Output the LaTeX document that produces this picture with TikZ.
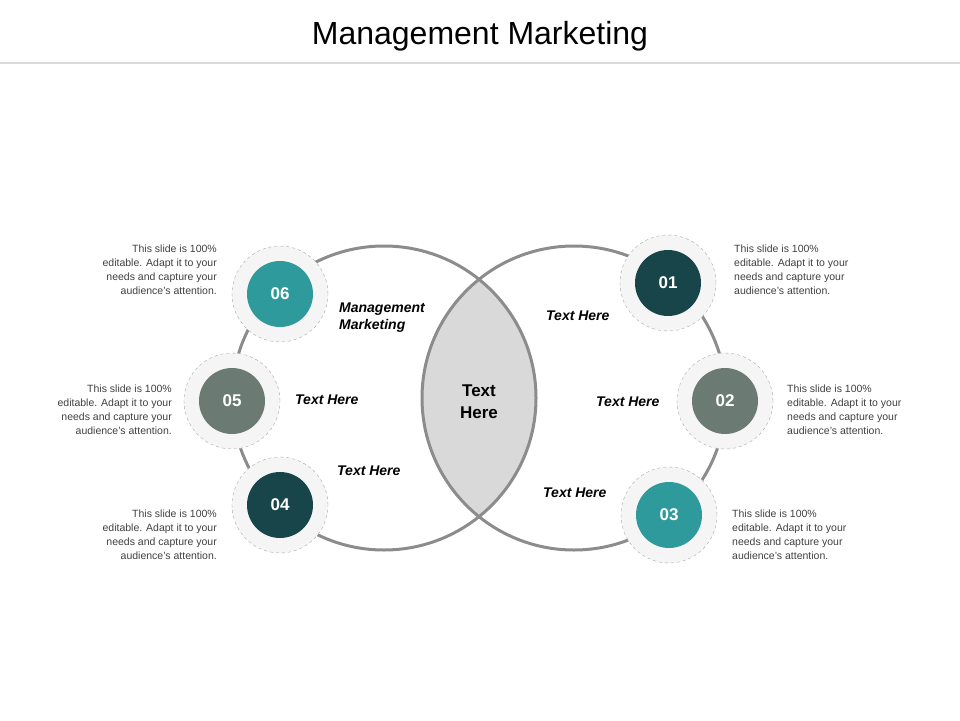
\documentclass[tikz,border=0pt]{standalone}
\usepackage{fontspec}
\setmainfont{Liberation Sans}
\begin{document}
\begin{tikzpicture}[x=1pt,y=-1pt,
  ring/.style={circle,draw=gray!70,dashed,fill=gray!8,minimum size=96pt,inner sep=0pt},
  num/.style={circle,minimum size=66pt,inner sep=0pt,text=white,font=\fontsize{17}{17}\selectfont\bfseries},
  body/.style={font=\fontsize{10.5}{14}\selectfont,text=gray!50!black,align=#1,inner sep=0pt},
  lbl/.style={font=\fontsize{14}{17}\selectfont\bfseries\itshape,align=left,inner sep=0pt},
  big/.style={draw=gray!50!black!60,line width=3pt}]
\definecolor{teal1}{HTML}{2E9A9C}
\definecolor{dark1}{HTML}{17454A}
\definecolor{gray1}{HTML}{6B7B74}
\useasboundingbox (0,0) rectangle (960,720);
\node (title) at (480,36) {\fontsize{32}{36}\selectfont Management Marketing};
\coordinate (la) at (0,63); \coordinate (lb) at (960,63);
\draw[gray!30,line width=2pt] (la) -- (lb);
% lens
\begin{scope}
\clip (384,398) circle (152);
\fill[gray!30] (574,398) circle (152);
\end{scope}
\draw[big] (384,398) circle (152);
\draw[big] (574,398) circle (152);
% left
\node[ring] (r6) at (280,294) {}; \node[num,fill=teal1] (n6) at (r6) {06};
\node[ring] (r5) at (232,401) {}; \node[num,fill=gray1] (n5) at (r5) {05};
\node[ring] (r4) at (280,505) {}; \node[num,fill=dark1] (n4) at (r4) {04};
\node[ring] (r1) at (668,283) {}; \node[num,fill=dark1] (n1) at (r1) {01};
\node[ring] (r2) at (725,401) {}; \node[num,fill=gray1] (n2) at (r2) {02};
\node[ring] (r3) at (669,515) {}; \node[num,fill=teal1] (n3) at (r3) {03};
\node[body=right,anchor=east] (t6) at (217,270) {This slide is 100\%\\editable. Adapt it to your\\needs and capture your\\audience's attention.};
\node[body=right,anchor=east] (t5) at (172,410) {This slide is 100\%\\editable. Adapt it to your\\needs and capture your\\audience's attention.};
\node[body=right,anchor=east] (t4) at (217,535) {This slide is 100\%\\editable. Adapt it to your\\needs and capture your\\audience's attention.};
\node[body=left,anchor=west] (t1) at (734,270) {This slide is 100\%\\editable. Adapt it to your\\needs and capture your\\audience's attention.};
\node[body=left,anchor=west] (t2) at (787,410) {This slide is 100\%\\editable. Adapt it to your\\needs and capture your\\audience's attention.};
\node[body=left,anchor=west] (t3) at (732,535) {This slide is 100\%\\editable. Adapt it to your\\needs and capture your\\audience's attention.};
\node[lbl,anchor=west] (l6) at (339,318) {Management\\Marketing};
\node[lbl,anchor=west] (l5) at (295,400) {Text Here};
\node[lbl,anchor=west] (l4) at (337,471) {Text Here};
\node[lbl,anchor=west] (l1) at (546,316) {Text Here};
\node[lbl,anchor=west] (l2) at (596,402) {Text Here};
\node[lbl,anchor=west] (l3) at (543,493) {Text Here};
\node[font=\fontsize{17}{22}\selectfont\bfseries,align=center] (c) at (479,402) {Text\\Here};
\end{tikzpicture}
\end{document}
